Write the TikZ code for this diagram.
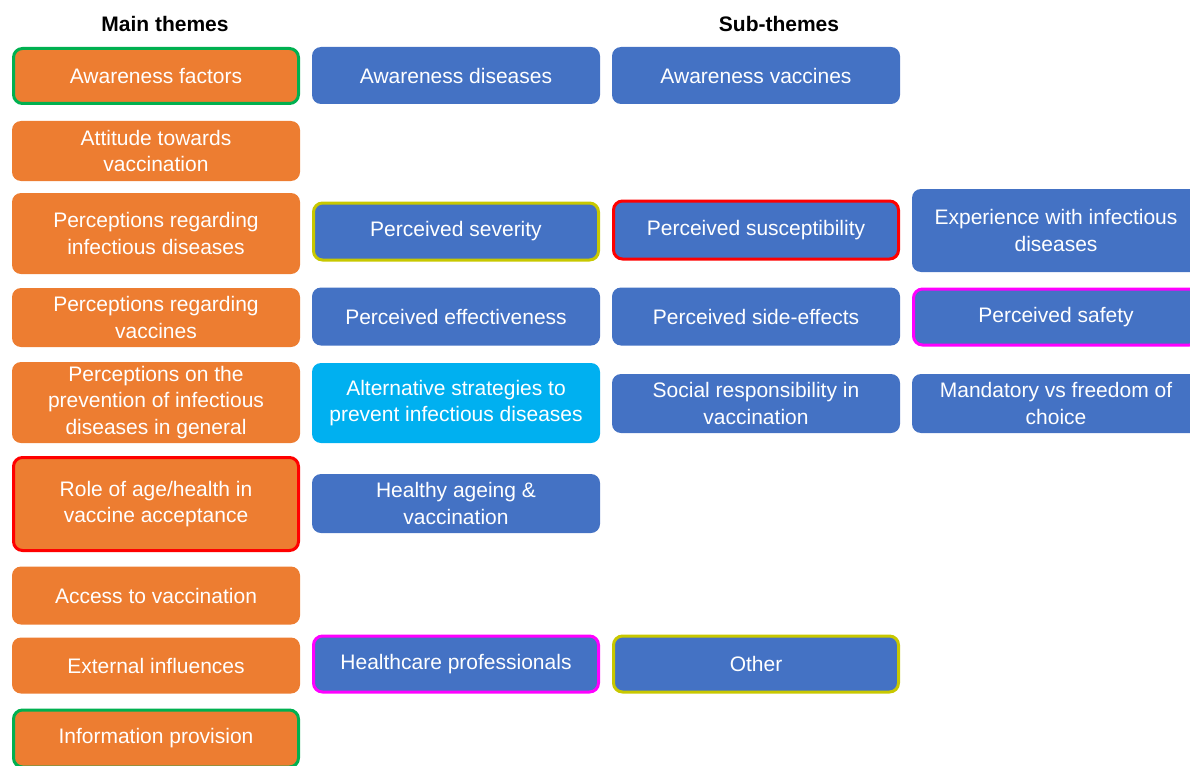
\documentclass[tikz,border=0pt]{standalone}
\usepackage{fontspec}
\setmainfont{Liberation Sans}
\definecolor{themeorange}{HTML}{ED7D31}
\definecolor{subblue}{HTML}{4472C4}
\definecolor{altcyan}{HTML}{00B0F0}
\definecolor{rimgreen}{HTML}{00B050}
\definecolor{rimyellow}{HTML}{C8C800}
\definecolor{rimred}{HTML}{FF0000}
\definecolor{rimpink}{HTML}{FF00FF}
\tikzset{
	box/.style={rounded corners=9pt, text=white, align=center, inner sep=0pt,
		font=\fontsize{21}{26.5}\selectfont, minimum width=288pt},
	theme/.style={box, fill=themeorange},
	sub/.style={box, fill=subblue},
	rim/.style={draw=#1, line width=3pt, minimum width=285pt},
	head/.style={font=\fontsize{21}{24}\selectfont\bfseries}
}
\begin{document}
\begin{tikzpicture}[x=1pt, y=-1pt]
	\useasboundingbox (0,0) rectangle (1190,765);
	\clip (0,0) rectangle (1190,765);
	% headings
	\node[head] (hmain) at (165,24) {Main themes};
	\node[head] (hsub) at (779,24) {Sub-themes};
	% main themes
	\node[theme, rim=rimgreen, minimum height=55pt] (aware) at (156,76) {Awareness factors};
	\node[theme, minimum height=60pt] (attitude) at (156,151) {Attitude towards\\vaccination};
	\node[theme, minimum height=81pt] (percdis) at (156,233.5) {Perceptions regarding\\infectious diseases};
	\node[theme, minimum height=59pt] (percvac) at (156,317.5) {Perceptions regarding\\vaccines};
	\node[theme, minimum height=81pt] (percprev) at (156,402.5) {Perceptions on the\\prevention of infectious\\diseases in general};
	\node[theme, rim=rimred, minimum height=93pt] (role) at (156,504) {Role of age/health in\\vaccine acceptance};
	\node[theme, minimum height=58pt] (access) at (156,595.5) {Access to vaccination};
	\node[theme, minimum height=56pt] (external) at (156,665.5) {External influences};
	\node[theme, rim=rimgreen, minimum height=57pt] (info) at (156,738.5) {Information provision};
	% sub-themes
	\node[sub, minimum height=57pt] (awdis) at (456,75.5) {Awareness diseases};
	\node[sub, minimum height=57pt] (awvac) at (756,75.5) {Awareness vaccines};
	\node[sub, rim=rimyellow, minimum height=57pt] (severity) at (456,231.5) {Perceived severity};
	\node[sub, rim=rimred, minimum height=58pt] (suscept) at (756,230) {Perceived susceptibility};
	\node[sub, minimum height=83pt] (experience) at (1056,230.5) {Experience with infectious\\diseases};
	\node[sub, minimum height=58pt] (effect) at (456,316.5) {Perceived effectiveness};
	\node[sub, rim=rimpink, minimum height=56pt] (safety) at (1056,317) {Perceived safety};
	\node[sub, minimum height=58pt] (sideeff) at (756,316.5) {Perceived side-effects};
	\node[box, fill=altcyan, minimum height=80pt] (altstrat) at (456,403) {Alternative strategies to\\prevent infectious diseases};
	\node[sub, minimum height=59pt] (social) at (756,403.5) {Social responsibility in\\vaccination};
	\node[sub, minimum height=59pt] (mandatory) at (1056,403.5) {Mandatory vs freedom of\\choice};
	\node[sub, minimum height=59pt] (ageing) at (456,503.5) {Healthy ageing \&\\vaccination};
	\node[sub, rim=rimpink, minimum height=56pt] (hcp) at (456,664) {Healthcare professionals};
	\node[sub, rim=rimyellow, minimum height=56pt] (other) at (756,664) {Other};
\end{tikzpicture}
\end{document}
